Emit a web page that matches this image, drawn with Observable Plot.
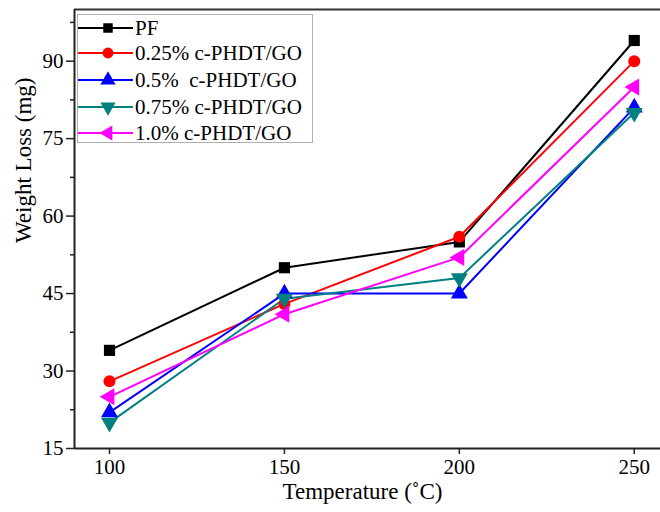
<!DOCTYPE html>
<html>
<head>
<meta charset="utf-8">
<script src="https://cdn.jsdelivr.net/npm/d3@7"></script>
<script src="https://cdn.jsdelivr.net/npm/@observablehq/plot@0.6"></script>
<style>
  body { margin: 0; background: #fff; }
  #wrap { position: relative; width: 660px; height: 512px; font-family: "Liberation Serif", serif; }
  #legend { position: absolute; left: 77px; top: 14px; width: 236px; height: 129px; border: 1.5px solid #b0b0b0; background: #fff; box-sizing: border-box; }
  .row { position: absolute; left: 0; height: 26px; display: flex; align-items: center; }
  .row span { font-size: 21px; white-space: pre; color: #000; margin-left: 1px; }
</style>
</head>
<body>
<div id="wrap"><div id="chart"></div><div id="legend"></div></div>
<script>
const temps = [100, 150, 200, 250];
const seriesNames = ["PF", "0.25% c-PHDT/GO", "0.5%  c-PHDT/GO", "0.75% c-PHDT/GO", "1.0% c-PHDT/GO"];
const pf = [34, 50, 55, 94];
const s025 = [28, 43, 56, 90];
const s05 = [22, 45, 45, 81];
const s075 = [20, 44, 48, 80];
const s10 = [25, 41, 52, 85];
const colors = ["#000000", "#ff0000", "#0000ff", "#008080", "#ff00ff"];
const symbols = ["square", "circle", "triangle", "triangle", "triangle"];
const rotations = [0, 0, 0, 180, -90];
const yTicks = [15, 30, 45, 60, 75, 90];
const yMinor = [22.5, 37.5, 52.5, 67.5, 82.5, 97.5];
const xTicks = [100, 150, 200, 250];

const allValues = [pf, s025, s05, s075, s10];
const font = "Liberation Serif";

const marks = [];
allValues.forEach((vals, i) => {
  const data = temps.map((t, j) => ({t, v: vals[j]}));
  marks.push(Plot.line(data, {x: "t", y: "v", stroke: colors[i], strokeWidth: 2}));
});
allValues.forEach((vals, i) => {
  const data = temps.map((t, j) => ({t, v: vals[j]}));
  marks.push(Plot.dot(data, {x: "t", y: "v", fill: colors[i], stroke: "none", symbol: symbols[i], rotate: rotations[i], r: symbols[i] === "circle" ? 6 : 6.3}));
});

const chart = Plot.plot({
  width: 660,
  height: 512,
  marginLeft: 74,
  marginRight: 0,
  marginTop: 9,
  marginBottom: 64,
  style: {fontFamily: font, fontSize: "21px", color: "#000", background: "#fff"},
  x: {domain: [90, 257.5]},
  y: {domain: [15, 100]},
  marks: [
    Plot.axisX({ticks: xTicks, tickSize: 6, tickPadding: 5, label: null, fontSize: 21, stroke: "#222", strokeWidth: 1.5}),
    Plot.axisY({ticks: yTicks, tickSize: 8, tickPadding: 3, label: null, fontSize: 21, stroke: "#222", strokeWidth: 1.5}),
    Plot.axisY({ticks: yMinor, tickSize: 4, tickFormat: () => "", label: null, stroke: "#222", strokeWidth: 1.5}),
    Plot.ruleY([15], {stroke: "#222", strokeWidth: 2}),
    Plot.ruleY([100], {stroke: "#333", strokeWidth: 2}),
    Plot.ruleX([90], {stroke: "#222", strokeWidth: 2}),
    ...marks,
    Plot.text(["Weight Loss (mg)"], {frameAnchor: "left", dx: -51, dy: 14, rotate: -90, fontSize: 23, fill: "#000"}),
    Plot.text(["Temperature (˚C)"], {frameAnchor: "bottom", dy: 50, dx: -5, fontSize: 23, fill: "#000"})
  ]
});
document.getElementById("chart").appendChild(chart);

// legend
const legend = document.getElementById("legend");
const rowTops = [0, 25, 52, 79, 105];
seriesNames.forEach((name, i) => {
  const row = document.createElement("div");
  row.className = "row";
  row.style.top = rowTops[i] + "px";
  const svg = d3.create("svg").attr("width", 56).attr("height", 26);
  svg.append("line").attr("x1", 0).attr("x2", 55).attr("y1", 13).attr("y2", 13).attr("stroke", colors[i]).attr("stroke-width", 2);
  const symMap = {square: d3.symbolSquare, circle: d3.symbolCircle, triangle: d3.symbolTriangle};
  const size = symbols[i] === "circle" ? Math.PI * 30 : (symbols[i] === "square" ? 90 : 100);
  svg.append("path").attr("d", d3.symbol(symMap[symbols[i]], size)())
    .attr("transform", `translate(30,13) rotate(${rotations[i]})`).attr("fill", colors[i]);
  row.appendChild(svg.node());
  const sp = document.createElement("span");
  sp.textContent = name;
  row.appendChild(sp);
  legend.appendChild(row);
});
</script>
</body>
</html>
